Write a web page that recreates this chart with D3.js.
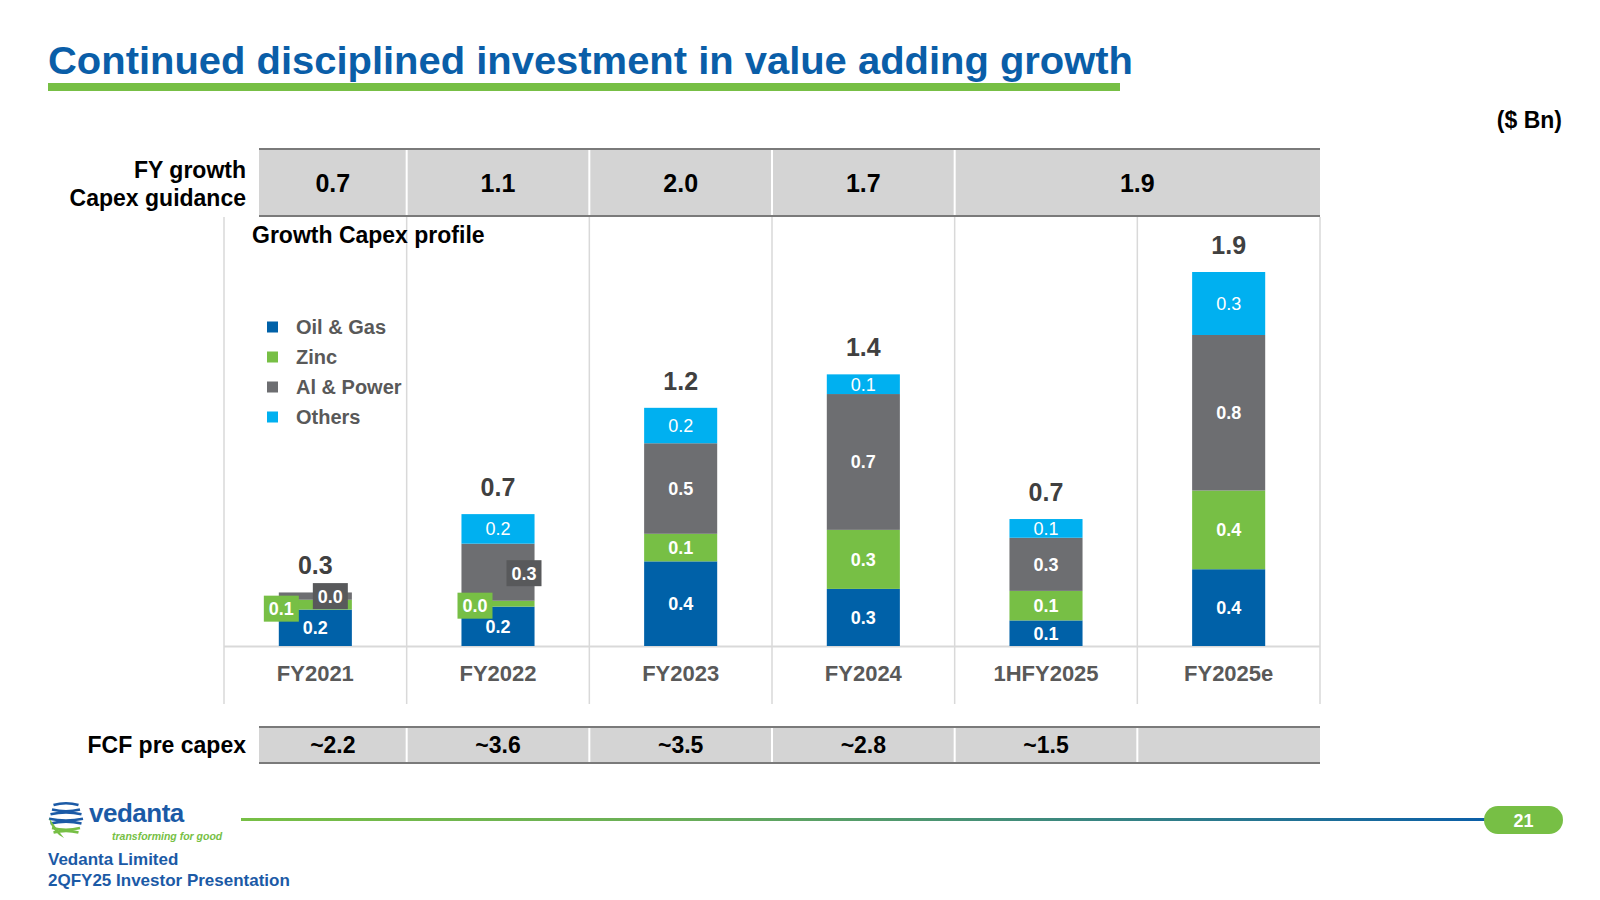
<!DOCTYPE html>
<html><head><meta charset="utf-8">
<script src="https://cdn.jsdelivr.net/npm/d3@7"></script>
<style>body{margin:0;background:#fff}svg{display:block}text{font-family:"Liberation Sans",Arial,sans-serif}</style>
</head><body><svg id="c" width="1600" height="900"></svg>
<script>
// ---------- data ----------
const categories = ["FY2021","FY2022","FY2023","FY2024","1HFY2025","FY2025e"];
const seriesNames = ["Oil & Gas","Zinc","Al & Power","Others"];
const oilGas  = [0.185,0.20,0.43,0.29,0.13,0.39];
const zinc    = [0.05,0.03,0.14,0.30,0.15,0.40];
const alPower = [0.037,0.29,0.46,0.69,0.27,0.79];
const others  = [0,0.15,0.18,0.10,0.095,0.32];
const oilGasLabels  = ["0.2","0.2","0.4","0.3","0.1","0.4"];
const zincLabels    = ["0.1","0.0","0.1","0.3","0.1","0.4"];
const alPowerLabels = ["0.0","0.3","0.5","0.7","0.3","0.8"];
const othersLabels  = ["","0.2","0.2","0.1","0.1","0.3"];
const totalLabels   = ["0.3","0.7","1.2","1.4","0.7","1.9"];
const guidanceLabels = ["0.7","1.1","2.0","1.7","1.9"];
const guidanceSpans  = [1,1,1,1,2];
const fcfLabels = ["~2.2","~3.6","~3.5","~2.8","~1.5",""];
const yMax = 1.9;

// ---------- styles ----------
const colors = ["#0061a8","#77bf45","#6d6e71","#00b0f0"];
const labelWeights = ["bold","bold","bold","normal"];
const labelNudge = {"FY2021|1":{dx:-34,dy:4,box:"#77bf45"},"FY2021|2":{dx:15,dy:0,box:"#58595b"},
                    "FY2022|1":{dx:-23,dy:2,box:"#77bf45"},"FY2022|2":{dx:26,dy:1,box:"#58595b"}};

const svg = d3.select("#c");
const seriesVals = [oilGas,zinc,alPower,others];
const seriesLbls = [oilGasLabels,zincLabels,alPowerLabels,othersLabels];

const x = d3.scaleBand().domain(categories).range([224,1320]).paddingInner(0.6).paddingOuter(0.3);
const y = d3.scaleLinear().domain([0,yMax]).range([646,272]);
const step = x.step();
const edges = d3.range(categories.length+1).map(i => 224 + i*step);

// title
const title = svg.append("text").attr("x",48).attr("y",74).attr("font-size",38).attr("font-weight","bold")
  .attr("fill","#0a5ea8").text("Continued disciplined investment in value adding growth");
const tl = title.node().getComputedTextLength();
if (Math.abs(tl-1085) > 10) title.attr("textLength",1085).attr("lengthAdjust","spacingAndGlyphs");
svg.append("rect").attr("x",48).attr("y",83).attr("width",1072).attr("height",8).attr("fill","#77bf45");

svg.append("text").attr("x",1562).attr("y",128).attr("text-anchor","end").attr("font-size",23)
  .attr("font-weight","bold").attr("fill","#000").text("($ Bn)");

// grid
const grid = svg.append("g");
edges.forEach(e => grid.append("line").attr("x1",e).attr("x2",e).attr("y1",217).attr("y2",704)
  .attr("stroke","#d9d9d9").attr("stroke-width",1.5));
grid.append("line").attr("x1",224).attr("x2",1320).attr("y1",y(0)+0.5).attr("y2",y(0)+0.5)
  .attr("stroke","#d9d9d9").attr("stroke-width",2);

// tables
function table(y0,y1,labels,spans,fs){
  const g = svg.append("g");
  g.append("rect").attr("x",259).attr("y",y0).attr("width",1320-259).attr("height",y1-y0).attr("fill","#d4d4d4");
  let idx = 0;
  labels.forEach((l,i)=>{
    const s = spans ? spans[i] : 1;
    const a = Math.max(259, edges[idx]), b = edges[idx+s];
    if (idx>0) g.append("line").attr("x1",edges[idx]).attr("x2",edges[idx]).attr("y1",y0+1).attr("y2",y1-1)
      .attr("stroke","#fff").attr("stroke-width",2);
    g.append("text").attr("x",(a+b)/2).attr("y",(y0+y1)/2+fs*0.36).attr("text-anchor","middle")
      .attr("font-size",fs).attr("font-weight","bold").attr("fill","#000").text(l);
    idx += s;
  });
  [y0,y1].forEach(yy => g.append("line").attr("x1",259).attr("x2",1320).attr("y1",yy).attr("y2",yy)
    .attr("stroke","#7a7a7a").attr("stroke-width",2));
}
table(149,216,guidanceLabels,guidanceSpans,25);
table(727,763,fcfLabels,null,23);

svg.append("text").attr("x",246).attr("y",178).attr("text-anchor","end").attr("font-size",23)
  .attr("font-weight","bold").text("FY growth");
svg.append("text").attr("x",246).attr("y",206).attr("text-anchor","end").attr("font-size",23)
  .attr("font-weight","bold").text("Capex guidance");
svg.append("text").attr("x",246).attr("y",753).attr("text-anchor","end").attr("font-size",23)
  .attr("font-weight","bold").text("FCF pre capex");
svg.append("text").attr("x",252).attr("y",243).attr("font-size",23)
  .attr("font-weight","bold").text("Growth Capex profile");

// legend
seriesNames.forEach((n,i)=>{
  const cy = 327 + i*30;
  svg.append("rect").attr("x",267).attr("y",cy-5.5).attr("width",11).attr("height",11).attr("fill",colors[i]);
  svg.append("text").attr("x",296).attr("y",cy+7).attr("font-size",20).attr("font-weight","bold")
    .attr("fill","#595959").text(n);
});

// stacked bars
const rows = categories.map((c,i)=>{const o={cat:c}; seriesNames.forEach((s,k)=>o[s]=seriesVals[k][i]); return o;});
const stacked = d3.stack().keys(seriesNames)(rows);
const bars = svg.append("g");
stacked.forEach((layer,k)=>{
  bars.selectAll(null).data(layer).join("rect")
    .attr("x",d=>x(d.data.cat)).attr("width",x.bandwidth())
    .attr("y",d=>y(d[1])).attr("height",d=>y(d[0])-y(d[1]))
    .attr("fill",colors[k]);
});
const labs = svg.append("g");
stacked.forEach((layer,k)=>{
  layer.forEach((d,i)=>{
    const txt = seriesLbls[k][i]; if(!txt) return;
    const key = d.data.cat+"|"+k, nd = labelNudge[key];
    const cx = x(d.data.cat)+x.bandwidth()/2 + (nd?nd.dx:0);
    const cy = (y(d[0])+y(d[1]))/2 + (nd?nd.dy:0);
    if (nd){
      labs.append("rect").attr("x",cx-17.5).attr("y",cy-13).attr("width",35).attr("height",26).attr("fill",nd.box);
    }
    labs.append("text").attr("x",cx).attr("y",cy+6.5).attr("text-anchor","middle").attr("font-size",18)
      .attr("font-weight",labelWeights[k]).attr("fill","#fff").text(txt);
  });
});
const topLayer = stacked[stacked.length-1];
topLayer.forEach((d,i)=>{
  svg.append("text").attr("x",x(d.data.cat)+x.bandwidth()/2).attr("y",y(d[1])-18).attr("text-anchor","middle")
    .attr("font-size",25).attr("font-weight","bold").attr("fill","#404040").text(totalLabels[i]);
});

// category axis
const axis = svg.append("g").attr("transform",`translate(0,${y(0)})`)
  .call(d3.axisBottom(x).tickSize(0).tickPadding(0));
axis.select(".domain").remove();
axis.selectAll("text").attr("dy",null).attr("y",35).attr("font-size",22).attr("font-weight","bold")
  .attr("fill","#595959").attr("font-family","Liberation Sans, Arial, sans-serif");

// footer
const defs = svg.append("defs");
const gr = defs.append("linearGradient").attr("id","fg").attr("x1","0").attr("x2","1");
gr.append("stop").attr("offset","0").attr("stop-color","#77bf45");
gr.append("stop").attr("offset","0.35").attr("stop-color","#6aae58");
gr.append("stop").attr("offset","1").attr("stop-color","#0a5ea8");
svg.append("rect").attr("x",241).attr("y",818).attr("width",1250).attr("height",3).attr("fill","url(#fg)");
svg.append("rect").attr("x",1484).attr("y",806).attr("width",79).attr("height",28).attr("rx",14).attr("fill","#77bf45");
svg.append("text").attr("x",1523.5).attr("y",826.5).attr("text-anchor","middle").attr("font-size",18)
  .attr("font-weight","bold").attr("fill","#fff").text("21");

// logo
const lg = svg.append("g");
for (let i=0;i<7;i++){
  const yy = 805 + i*4.6;
  const w = 34 - Math.abs(i-3)*3;
  const x0 = 66 - w/2;
  lg.append("path").attr("d",`M${x0},${yy} Q${66},${yy+(i%2?3.5:-3.5)} ${x0+w},${yy}`)
    .attr("fill","none").attr("stroke", i>4 ? "#77bf45" : "#1b5aa6").attr("stroke-width",2.6);
}
lg.append("path").attr("d","M49,818 Q52,832 64,838 Q56,828 49,818Z").attr("fill","#77bf45");
svg.append("text").attr("x",89).attr("y",822).attr("font-size",26).attr("font-weight","bold")
  .attr("fill","#1b5aa6").attr("letter-spacing",-0.5).text("vedanta");
svg.append("text").attr("x",112).attr("y",840).attr("font-size",10.5).attr("font-weight","bold")
  .attr("font-style","italic").attr("fill","#77bf45").text("transforming for good");
svg.append("text").attr("x",48).attr("y",865).attr("font-size",17).attr("font-weight","bold")
  .attr("fill","#1b5aa6").text("Vedanta Limited");
svg.append("text").attr("x",48).attr("y",886).attr("font-size",17).attr("font-weight","bold")
  .attr("fill","#1b5aa6").text("2QFY25 Investor Presentation");
</script></body></html>
